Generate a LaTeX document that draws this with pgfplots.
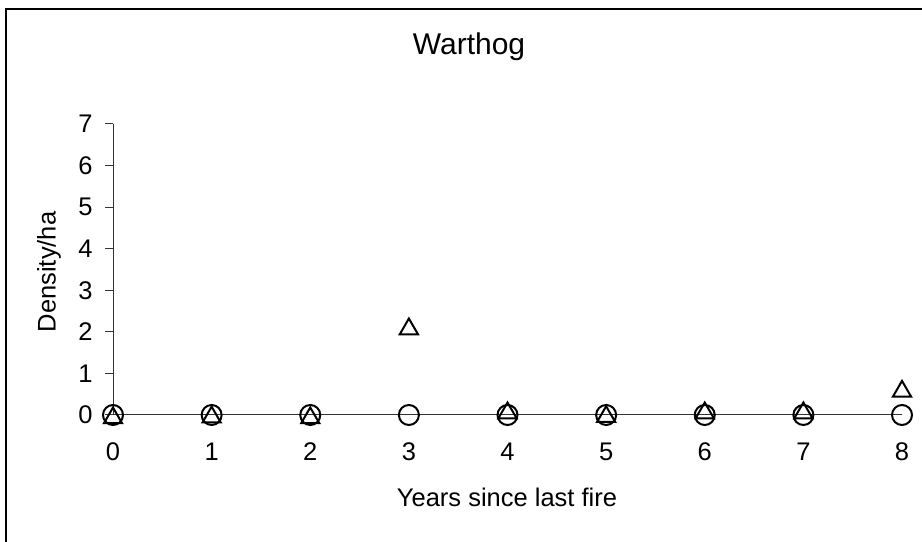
\documentclass[border=0pt]{standalone}
\usepackage{fontspec}
\setmainfont{Liberation Sans}
\usepackage{pgfplots}
\pgfplotsset{compat=1.18}
\begin{document}
\begin{tikzpicture}[x=1bp,y=1bp]
\useasboundingbox (0,0) rectangle (922,542);
\draw[line width=2bp] (6,0) -- (6,533) -- (923,533);
\node[anchor=base, font=\fontsize{30bp}{36bp}\selectfont] at (469,487) {Warthog};
\node[anchor=base, font=\fontsize{25.5bp}{30bp}\selectfont] at (507,35) {Years since last fire};
\node[rotate=90, anchor=center, font=\fontsize{25.5bp}{30bp}\selectfont] at (49,270) {Density/ha};
\begin{axis}[
  at={(113bp,127bp)}, anchor=south west,
  scale only axis, width=789bp, height=291bp,
  xmin=0, xmax=8, ymin=0, ymax=7,
  axis x line*=bottom, axis y line*=left,
  axis line style={line width=1bp, black!80},
  xtick={0,1,2,3,4,5,6,7,8}, ytick={0,1,2,3,4,5,6,7},
  tick align=outside, major tick length=8bp,
  tick style={line width=1bp, black!80},
  xtick style={draw=none},
  /pgf/number format/assume math mode=true,
  ticklabel style={font=\fontsize{25.5bp}{30bp}\selectfont},
  xticklabel style={yshift=-16bp},
  yticklabel style={xshift=-9bp},
  clip=false,
]
\addplot[only marks, mark=o, mark size=10bp, mark options={line width=2bp, black}]
  coordinates {(0,0) (1,0) (2,0) (3,0) (4,0) (5,0) (6,0) (7,0) (8,0)};
\addplot[only marks, mark=triangle, mark size=10.5bp, mark options={line width=2bp, black, yshift=-3bp}]
  coordinates {(0,0) (1,0.02) (2,0) (3,2.14) (4,0.12) (5,0.03) (6,0.12) (7,0.12) (8,0.64)};
\end{axis}
\end{tikzpicture}
\end{document}
